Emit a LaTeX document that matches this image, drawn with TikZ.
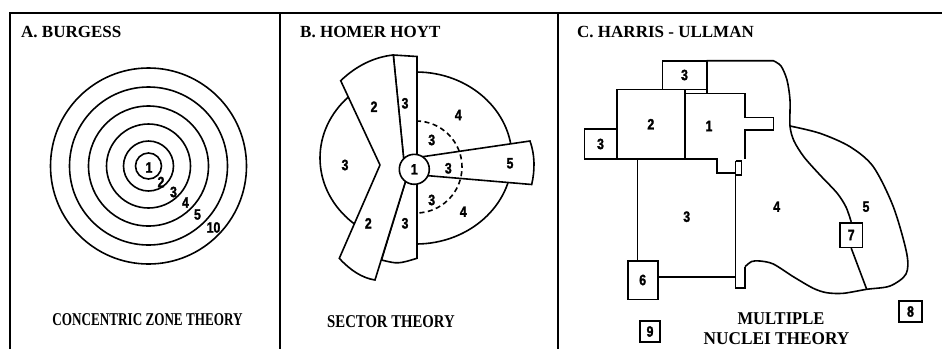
\documentclass[tikz,border=0pt]{standalone}
\usepackage{fontspec}
\setmainfont{Liberation Serif}
\newfontfamily\numfont[FakeStretch=0.82, FakeBold=1.6]{Liberation Sans Bold}
\usepackage{graphicx}
\usepackage{tikz}
\tikzstyle{frame} = [line width=2pt]
\tikzstyle{zone} = [line width=1.6pt]
\tikzstyle{num} = [font=\numfont\fontsize{15}{15}\selectfont, inner sep=0pt]
\tikzstyle{title} = [font=\bfseries\fontsize{17}{17}\selectfont, anchor=west, inner sep=0pt]
\tikzstyle{theory} = [font=\bfseries\fontsize{18}{18}\selectfont, inner sep=0pt]
\tikzstyle{nucleus} = [zone, draw, fill=white, num]

\begin{document}
\begin{tikzpicture}[x=1pt, y=-1pt]
			\useasboundingbox (0,0) rectangle (942,349);
			\draw[frame] (10,349) -- (10,13) -- (942,13);
			\draw[frame] (279.5,13) -- (279.5,349);
			\draw[frame] (558,13) -- (558,349);
			\node[title] (ta) at (21,32) {A. BURGESS};
			\node[title] (tb) at (300,32) {B. HOMER HOYT};
			\node[title] (tc) at (577,32) {C. HARRIS - ULLMAN};

			\foreach \r in {13,25,42,60,79,98}
				\draw[zone] (148.5,166) circle[radius=\r];
			\node[num] (a1) at (149,167.5) {1};
			\node[num] (a2) at (161,182) {2};
			\node[num] (a3) at (173.5,192) {3};
			\node[num] (a4) at (185.5,202.5) {4};
			\node[num] (a5) at (197.5,214.5) {5};
			\node[num] (a10) at (213.5,227.5) {10};
			\node[theory] (ztheory) at (147.5,320) {\scalebox{0.73}[1]{CONCENTRIC ZONE THEORY}};

			\filldraw[zone, fill=white] (416,158) ellipse[x radius=96, y radius=86];
			\filldraw[zone, fill=white] (420,157.1) -- (530,141) .. controls (535,155) and (535,170) .. (531.7,184.5) -- (420,175);
			\draw[zone, dash pattern=on 5pt off 3.5pt] (416,121) arc[start angle=-90, end angle=90, radius=46];
			\filldraw[zone, fill=white] (404.3,165) -- (393.3,55) -- (417,56.5) -- (417,165);
			\filldraw[zone, fill=white] (408.4,172) -- (381.5,260) .. controls (398,264) .. (417,258.3) -- (417,172);
			\filldraw[zone, fill=white] (380,165) -- (340.7,80.7) .. controls (356,66) and (374,57) .. (393.3,55) -- (404.3,165);
			\filldraw[zone, fill=white] (380,165) -- (339.3,258.3) .. controls (350,270) and (362,278) .. (375,280) -- (408.4,172);
			\node[circle, draw, zone, fill=white, minimum size=30pt, num] (h1) at (414.3,169.3) {1};
			\node[num] (h2a) at (374,106.7) {2};
			\node[num] (h3a) at (405,103.3) {3};
			\node[num] (h4a) at (458.3,115) {4};
			\node[num] (h3b) at (431.7,140) {3};
			\node[num] (h3c) at (345,165) {3};
			\node[num] (h3d) at (448.3,168.3) {3};
			\node[num] (h5) at (510,163.3) {5};
			\node[num] (h3e) at (431.7,200) {3};
			\node[num] (h4b) at (463.3,211.7) {4};
			\node[num] (h2b) at (368.3,223.3) {2};
			\node[num] (h3f) at (405,223.3) {3};
			\node[theory] (stheory) at (391,322) {\scalebox{0.82}[1]{SECTOR THEORY}};

			\draw[zone] (662.3,89.3) rectangle (706.7,60.7) node[pos=.5, num] (c3a) {3};
			\draw[zone] (616.7,89.3) rectangle (685,159) node[pos=.5, num] (c2) {2};
			\draw[zone] (584.3,129) rectangle (616.7,159) node[pos=.5, num] (c3b) {3};
			\draw[zone] (706.7,60.7) -- (706.7,93.3);
			\draw[zone] (685,93.3) -- (745,93.3) -- (745,117.3) -- (773.3,117.3) -- (773.3,130) -- (745,130) -- (745,159);
			\draw[zone] (685,159) -- (717,159) -- (717,173) -- (735.5,173);
			\draw[zone] (735.5,161) -- (741.5,161) -- (741.5,175) -- (735.5,175);
			\node[num] (c1) at (709,126) {1};
			\coordinate (tabl) at (735.5,287.7);
			\draw[zone] (735.5,161) -- (tabl) -- (745,287.7) -- (745,266.7);
			\node[nucleus, minimum width=30pt, minimum height=38.6pt] (b6) at (642.7,280) {6};
			\draw[zone] (637.3,159) -- (637.3,159 |- b6.north);
			\draw[zone] ([yshift=3.3pt]b6.east) -- ([yshift=3.3pt]b6.east -| tabl);
			\node[nucleus, minimum width=22.3pt, minimum height=24.6pt] (b7) at (851.2,235) {7};
			\coordinate (j5) at (790,126);
			\coordinate (j7) at (866.7,289.3);
			\draw[zone] (706.7,60.7) -- (773.3,60.7) plot[smooth] coordinates {(773.3,60.7) (781,66) (787,80) (790,100) (j5) (794,141) (804,157) (820,175) (837,193) (846,207) (b7.north)};
			\draw[zone] plot[smooth] coordinates {(j5) (820,133.3) (850,146.7) (873.3,166.7) (893.3,206.7) (906.7,253.3) (906,274) (890,286) (j7) (843.3,293.3) (826.7,292.7) (813.3,288.3) (793.3,276.7) (773.3,264) (760,261) (751.7,261.5) (745,266.7)};
			\draw[zone] (b7.south) -- (j7);
			\node[num] (c3c) at (686.7,216.7) {3};
			\node[num] (c4) at (776.7,206.7) {4};
			\node[num] (c5) at (866,206.7) {5};
			\node[nucleus, minimum width=23pt, minimum height=21pt] (b8) at (910.5,311.5) {8};
			\node[nucleus, minimum width=20pt, minimum height=20.5pt] (b9) at (650,331.5) {9};
			\node[theory] (mtheory) at (781,319) {\scalebox{0.92}[1]{MULTIPLE}};
			\node[theory] (ntheory) at (776.5,338.5) {\scalebox{0.96}[1]{NUCLEI THEORY}};
		\end{tikzpicture}
\end{document}
